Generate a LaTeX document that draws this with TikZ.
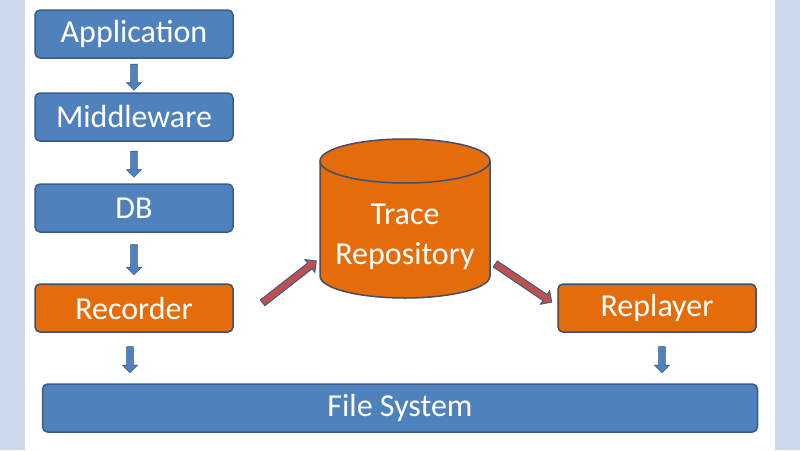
\documentclass[tikz,border=0pt]{standalone}
\usepackage{fontspec}
\setmainfont{Carlito}
\usetikzlibrary{shapes.arrows,shapes.geometric,calc}
\definecolor{bbl}{HTML}{4F81BD}
\definecolor{bbd}{HTML}{385D8A}
\definecolor{org}{HTML}{E46C0A}
\definecolor{ord}{HTML}{3F4F6B}
\definecolor{arr}{HTML}{C0504D}
\begin{document}
\begin{tikzpicture}[x=1pt,y=-1pt,
 box/.style={draw=bbd,line width=1.5pt,fill=bbl,rounded corners=5pt,text=white,font=\fontsize{32}{36}\selectfont,inner sep=0pt},
 obox/.style={box,fill=org,draw=ord},
 darr/.style={single arrow,draw=bbd,fill=bbl,line width=0.6pt,minimum height=26pt,minimum width=15pt,single arrow head extend=2.5pt,inner sep=1.8pt,rotate=-90},
 rarr/.style={single arrow,draw=bbd,fill=arr,line width=1pt,minimum height=68pt,minimum width=16pt,single arrow head extend=3pt,inner sep=2pt}]
\useasboundingbox (0,0) rectangle (800,450);
\fill[bbl!30] (0,0) rectangle (25,450);
\fill[bbl!30] (775,0) rectangle (800,450);
\node[box,minimum width=198pt,minimum height=48pt] (app) at (134,34) {Application};
\node[box,minimum width=198pt,minimum height=48pt] (mid) at (134,117) {Middleware};
\node[box,minimum width=198pt,minimum height=48pt] (db) at (134,208) {DB};
\node[obox,minimum width=198pt,minimum height=48pt] (rec) at (134,308) {Recorder};
\node[obox,minimum width=198pt,minimum height=48pt] (rep) at (657,308) {Replayer};
\node[box,minimum width=715pt,minimum height=48pt] (fs) at (400,408) {File System};
% cylinder
\draw[fill=org,draw=ord,line width=1.5pt] (320,161) -- (320,276) arc[start angle=180,end angle=360,x radius=85,y radius=-22] -- (490,161);
\draw[fill=org,draw=ord,line width=1.5pt] (405,161) ellipse[x radius=85,y radius=22];
\node[text=white,font=\fontsize{32}{40}\selectfont,align=center] (tr) at (405,237) {Trace\\Repository};
% down arrows
\node[darr] (d1) at ($(app.south)!0.5!(mid.north)$) {};
\node[darr] (d2) at ($(mid.south)!0.5!(db.north)$) {};
\node[darr,minimum height=30pt] (d3) at ($(db.south)!0.5!(rec.north)$) {};
\node[darr] (d4) at (130,358) {};
\node[darr] (d5) at (662,358) {};
\node[rarr,rotate=38] (a1) at (288,283) {};
\node[rarr,rotate=-34] (a2) at (522,282) {};
\end{tikzpicture}
\end{document}
